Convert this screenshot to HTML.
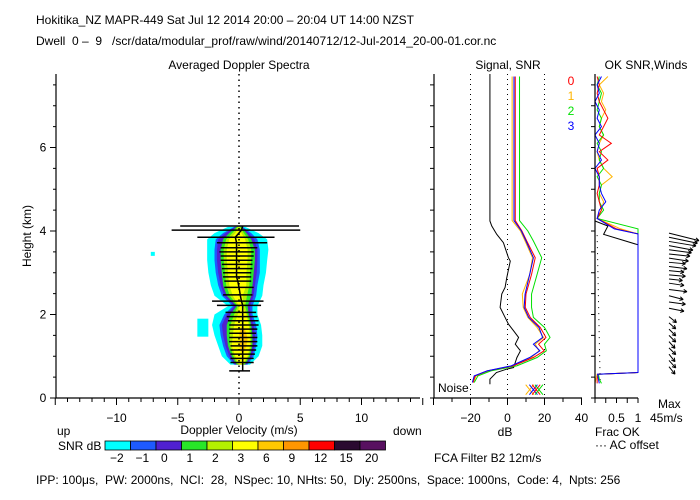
<!DOCTYPE html>
<html><head><meta charset="utf-8"><style>
html,body{margin:0;padding:0;background:#fff;}
svg{display:block;font-family:"Liberation Sans",sans-serif;}
text{font-size:12px;fill:#000;}
</style></head><body>
<svg id="chart" width="700" height="500" viewBox="0 0 700 500" xmlns="http://www.w3.org/2000/svg">
<text x="36" y="24">Hokitika_NZ  MAPR-449  Sat Jul 12 2014 20:00 – 20:04 UT 14:00 NZST</text>
<text x="36" y="45" xml:space="preserve">Dwell  0 –  9   /scr/data/modular_prof/raw/wind/20140712/12-Jul-2014_20-00-01.cor.nc</text>
<text x="239" y="69" text-anchor="middle">Averaged Doppler Spectra</text>
<text x="508" y="69" text-anchor="middle">Signal, SNR</text>
<text x="646" y="69" text-anchor="middle">OK SNR,Winds</text>
<text transform="translate(31,236) rotate(-90)" text-anchor="middle" font-size="11">Height (km)</text>
<g id="spec"></g>
<g id="sig"></g>
<g id="win"></g>
<g id="cbar"></g>
<text x="239" y="434" text-anchor="middle">Doppler Velocity (m/s)</text>
<text x="57" y="435">up</text>
<text x="393" y="435">down</text>
<text x="58" y="450">SNR dB</text>
<text x="505" y="436" text-anchor="middle">dB</text>
<text x="434" y="462">FCA Filter B2 12m/s</text>
<text x="438" y="392">Noise</text>
<text x="595" y="436">Frac OK</text>
<text x="595" y="449">··· AC offset</text>
<text x="658" y="408">Max</text>
<text x="650" y="422">45m/s</text>
<text x="36" y="484" font-size="11.5" xml:space="preserve">IPP: 100μs,  PW: 2000ns,  NCI:  28,  NSpec: 10, NHts: 50,  Dly: 2500ns,  Space: 1000ns,  Code: 4,  Npts: 256</text>
</svg>
<script>
// ---------- data ----------
const specH   = [0.8,1.0,1.25,1.5,1.75,2.0,2.2,2.45,2.7,3.0,3.3,3.55,3.8,3.95,4.1];
const cyanL   = [-0.7,-1.4,-1.7,-2.0,-2.2,-2.0,-0.9,-2.0,-2.3,-2.5,-2.6,-2.6,-2.6,-2.0,-0.9];
const cyanR   = [0.9,1.6,1.9,1.9,1.8,1.5,1.5,1.9,2.0,2.2,2.3,2.4,2.3,1.6,0.5];
const blueL   = [-0.4,-1.0,-1.3,-1.5,-1.6,-1.2,-0.5,-1.4,-1.7,-1.9,-2.0,-2.0,-1.9,-1.3,-0.4];
const blueR   = [0.7,1.2,1.4,1.5,1.4,1.1,1.1,1.4,1.5,1.7,1.7,1.7,1.5,1.0,0.3];
const purpL   = [-0.3,-0.8,-1.1,-1.3,-1.4,-1.0,-0.35,-1.2,-1.5,-1.7,-1.8,-1.8,-1.7,-1.1,-0.3];
const purpR   = [0.6,1.05,1.25,1.3,1.2,0.95,0.9,1.2,1.3,1.45,1.5,1.5,1.25,0.8,0.25];
const greenL  = [-0.2,-0.6,-0.9,-1.0,-1.0,-0.7,-0.2,-1.0,-1.3,-1.4,-1.5,-1.5,-1.3,-0.8,-0.2];
const greenR  = [0.5,0.9,1.1,1.1,1.0,0.8,0.7,1.0,1.1,1.2,1.3,1.3,1.0,0.6,0.2];
const ygL     = [-0.1,-0.45,-0.75,-0.75,-0.7,-0.4,-0.1,-0.75,-1.05,-1.15,-1.25,-1.25,-1.05,-0.55,-0.1];
const ygR     = [0.4,0.8,1.0,1.0,0.9,0.7,0.5,0.65,0.85,0.9,1.0,1.0,0.75,0.4,0.1];
const yelL    = [0,-0.3,-0.6,-0.5,-0.4,-0.1,0,-0.5,-0.8,-0.9,-1.0,-1.0,-0.8,-0.3,0];
const yelR    = [0.3,0.7,0.9,0.9,0.8,0.6,0.3,0.3,0.6,0.6,0.7,0.7,0.5,0.2,0];
const orH     = [1.1,1.25,1.4,1.55,1.7];
const orL     = [0.2,0.0,0.1,0.0,0.2];
const orR     = [0.4,0.6,0.7,0.6,0.4];
const errH = [4.12,4.02,3.85,3.72,3.6,3.5,3.4,3.3,3.2,3.1,3.0,2.9,2.8,2.65,2.47,2.32,2.22,2.05,1.95,1.85,1.75,1.65,1.55,1.45,1.35,1.25,1.15,1.05,0.95,0.85,0.65];
const errL = [-4.8,-5.5,-3.4,-1.8,-1.5,-1.6,-1.5,-1.5,-1.4,-1.4,-1.3,-1.3,-1.2,-1.2,-1.3,-2.2,-1.8,-1.1,-1.0,-0.9,-0.8,-0.8,-0.8,-0.8,-0.8,-0.7,-0.7,-0.7,-0.7,-0.7,-0.8];
const errR = [4.9,5.0,2.9,2.3,1.5,1.2,1.2,1.1,1.1,1.1,1.0,1.0,1.0,1.2,1.1,2.0,1.8,1.4,1.5,1.6,1.6,1.5,1.4,1.5,1.5,1.5,1.4,1.3,1.2,1.2,0.9];
const meanV = [0.3,0.2,-0.3,-0.2,-0.2,-0.2,-0.2,-0.2,-0.2,-0.2,-0.2,-0.2,-0.1,0.0,0.1,0.2,0.3,0.3,0.3,0.3,0.3,0.3,0.3,0.3,0.3,0.3,0.3,0.3,0.3,0.3,0.3];
const xTicks = [-10,-5,0,5,10];
const yTicks = [0,2,4,6];
const dbTicks = [-20,0,20,40];
const cbLabels = ["-2","-1","0","1","2","3","6","9","12","15","20"];
const cbColors = ["#00ffff","#1e5aff","#5020d0","#28e628","#b4f000","#ffff00","#ffc800","#ff9600","#ff0000","#2a0a30","#581060"];
const blackH = [7.76,4.24,4.12,3.92,3.72,3.36,3.28,2.88,2.65,2.49,2.17,1.93,1.77,1.61,1.45,1.29,1.13,0.97,0.73,0.69,0.61,0.45,0.33];
const blackD = [-9.5,-9.5,-8.5,-5.8,-2.2,0.5,1.5,-0.4,-1.3,-3.1,-4,-1.3,0.5,3.3,6,4.2,7,5.1,3.3,-0.5,-6,-9.5,-9.5];
const snrH   = [7.7,4.25,4.0,3.76,3.36,2.96,2.49,2.17,1.93,1.69,1.45,1.29,1.13,0.97,0.77,0.65,0.53,0.37];
const snrRed = [4.2,4.2,7.8,10.4,15,13,10,9.6,12.3,17.7,20.8,16.8,19.8,14,3,-11,-17.5,-18.6];
const snrOrg = [2.5,2.5,7,9.5,13.5,12,8,8.5,11,16,19.5,15,17,13,3,-10,-17,-18.5];
const snrGrn = [6.5,6.5,11,14,18.5,16,13,13,14,20,23,20,21,16,5,-9,-16,-18];
const snrBlu = [3.5,3.5,7.5,10,14,12,9.5,9,11.5,17,19,14,17.5,12,2,-11,-18,-19];
const noiseD = [12,14,15.5,17];
const fracH  = [7.7,7.5,7.3,7.1,6.9,6.7,6.5,6.3,6.1,5.9,5.7,5.5,5.3,5.1,4.9,4.7,4.5,4.3,4.05,3.93,0.61,0.57,0.45,0.35];
const fracRed= [0.05,0.1,0.05,0.1,0.2,0.3,0.2,0.1,0.38,0.1,0.3,0.05,0.1,0.1,0.05,0.1,0.15,0.05,0.5,1,1,0.07,0.05,0.05];
const fracOrg= [0.3,0.1,0.2,0.15,0.25,0.15,0.1,0.2,0.1,0.05,0.1,0.2,0.4,0.15,0.1,0.2,0.15,0.05,0.6,1,1,0.05,0.02,0.0];
const fracGrn= [0.1,0.05,0.15,0.1,0.05,0.15,0.1,0.2,0.05,0.15,0.1,0.2,0.05,0.15,0.1,0.1,0.2,0.05,1,1,1,0.08,0.1,0.15];
const fracBlu= [0.15,0.05,0.1,0.0,0.1,0.05,0.15,0.0,0.1,0.05,0.15,0.0,0.1,0.1,0.15,0.25,0.1,0.05,0.45,1,1,0.06,0.08,0.1];
const fracBlkH = [4.24,4.12,3.92,3.67];
const fracBlk  = [0.0,0.3,0.2,1.0];
const acH = [3.9,0.4];
const acF = [0.05,0.12];
const windH = [3.95,3.85,3.75,3.65,3.55,3.45,3.35,3.25,3.15,3.05,2.95,2.85,2.75,2.6,2.45,2.3,2.15,1.95,1.8,1.65,1.5,1.35,1.2,1.05,0.9,0.75];
const windU = [40,38,36,32,30,28,26,22,24,20,22,18,20,24,19,22,20,10,9,9,9,8,9,8,9,8];
const windV = [-10,-8,-6,-6,-4,-3,-4,-2,-3,-2,-2,-2,-3,-3,-5,-3,-4,-8,-8,-9,-9,-9,-9,-10,-10,-10];

// ---------- helpers ----------
const NS="http://www.w3.org/2000/svg";
const yH = h => 398 - h*41.75;
const xV = v => 239 + v*12.25;
const xD = d => 507.5 + d*1.85;
const xF = f => 595 + f*43;
function mk(parent, tag, attrs){const e=document.createElementNS(NS,tag);for(const k in attrs)e.setAttribute(k,attrs[k]);parent.appendChild(e);return e;}
function txt(parent,x,y,s,anchor){const t=mk(parent,'text',{x:x,y:y,'text-anchor':anchor||'middle'});t.textContent=s;return t;}
const spec=document.getElementById('spec'), sig=document.getElementById('sig'), win=document.getElementById('win'), cb=document.getElementById('cbar');

// ---------- spectra ----------
function band(H,L,R,color,name){
  const pts=[];
  for(let i=0;i<H.length;i++)pts.push(xV(L[i])+','+yH(H[i]));
  for(let i=H.length-1;i>=0;i--)pts.push(xV(R[i])+','+yH(H[i]));
  const p=mk(spec,'polygon',{points:pts.join(' '),fill:color,stroke:'none'});
  
  
}
band(specH,cyanL,cyanR,'#00ffff','snr-contour-cyan');
band(specH,blueL,blueR,'#1e5aff','snr-contour-blue');
band(specH,purpL,purpR,'#5020d0','snr-contour-purple');
band(specH,greenL,greenR,'#28e628','snr-contour-green');
band(specH,ygL,ygR,'#b4f000','snr-contour-yellowgreen');
band(specH,yelL,yelR,'#ffff00','snr-contour-yellow');
band(orH,orL,orR,'#ffc800','snr-contour-orange');
const isl=mk(spec,'rect',{x:xV(-3.4),y:yH(1.9),width:11,height:18,fill:'#00ffff'});


const isl2=mk(spec,'rect',{x:xV(-7.2),y:yH(3.5),width:4,height:4,fill:'#00ffff'});


const zl=mk(spec,'line',{x1:xV(0),y1:74,x2:xV(0),y2:398,stroke:'#000','stroke-width':1.5,'stroke-dasharray':'1.5,4'});


for(let i=0;i<errH.length;i++){
  const l=mk(spec,'line',{x1:xV(errL[i]),y1:yH(errH[i]),x2:xV(errR[i]),y2:yH(errH[i]),stroke:'#000','stroke-width':1.5});
  
  
}
const mp=mk(spec,'polyline',{points:errH.map((h,i)=>xV(meanV[i])+','+yH(h)).join(' '),fill:'none',stroke:'#000','stroke-width':1.5});


const ax=mk(spec,'path',{d:'M56,74 V398 H420',fill:'none',stroke:'#000','stroke-width':1.2});


for(let v=-15;v<=15;v++){
  const major=(v%5===0);
  const t=mk(spec,'line',{x1:xV(v),y1:398,x2:xV(v),y2:major?405:402,stroke:'#000'});
  
  
}
xTicks.forEach(v=>{const t=txt(spec,xV(v),422,v<0?'−'+(-v):String(v));});
for(let h=0;h<=7.5;h+=0.5){
  const t=mk(spec,'line',{x1:h%2===0?50:53,y1:yH(h),x2:56,y2:yH(h),stroke:'#000'});
  
  
}
yTicks.forEach(h=>{const t=txt(spec,43,yH(h)+4,String(h));});

// ---------- colorbar ----------
cbColors.forEach((c,i)=>{
  const r=mk(cb,'rect',{x:105+i*25.5,y:441,width:25.5,height:9,fill:c,stroke:'#000','stroke-width':0.8});
  
  
  const t=txt(cb,110+i*25.5,462,cbLabels[i].replace('-','−'),'start');
  
  
});

// ---------- signal panel ----------
[-20,0,20].forEach(d=>{
  const l=mk(sig,'line',{x1:xD(d),y1:74,x2:xD(d),y2:398,stroke:'#000','stroke-dasharray':'1,4'});
  
  
});
function lineD(H,D,color,name){
  const p=mk(sig,'polyline',{points:H.map((h,i)=>xD(D[i])+','+yH(h)).join(' '),fill:'none',stroke:color,'stroke-width':1});
  
  
}
lineD(blackH,blackD,'#000','signal-line');
lineD(snrH,snrOrg,'#ffb400','snr-beam-1');
lineD(snrH,snrGrn,'#00e000','snr-beam-2');
lineD(snrH,snrRed,'#ff0000','snr-beam-0');
lineD(snrH,snrBlu,'#0000ff','snr-beam-3');
const ncol=['#ffb400','#0000ff','#ff0000','#00e000'];
noiseD.forEach((d,i)=>{
  const x=xD(d),y=yH(0.2);
  const g=mk(sig,'path',{d:`M${x-4},${y-5} L${x+4},${y+5} M${x+4},${y-5} L${x-4},${y+5}`,stroke:ncol[i],'stroke-width':1});
  
  
});
const sax=mk(sig,'path',{d:'M434,74 V398 H582',fill:'none',stroke:'#000','stroke-width':1.2});


for(let h=0;h<=7.5;h+=0.5){
  const t=mk(sig,'line',{x1:430,y1:yH(h),x2:434,y2:yH(h),stroke:'#000'});
  
  
}
for(let d=-40;d<=40;d+=10){
  const t=mk(sig,'line',{x1:xD(d),y1:398,x2:xD(d),y2:d%20===0?405:402,stroke:'#000'});
  
  
}
dbTicks.forEach(d=>{const t=txt(sig,xD(d),422,d<0?'−'+(-d):String(d));});

// ---------- winds panel ----------
const bl=[['0','#ff0000'],['1','#ffb400'],['2','#00e000'],['3','#0000ff']];
bl.forEach((b,i)=>{const t=txt(win,571,85+i*15,b[0]);t.setAttribute('fill',b[1]);t.style.fill=b[1];});
function lineF(H,F,color,name,dash){
  const p=mk(win,'polyline',{points:H.map((h,i)=>xF(F[i])+','+yH(h)).join(' '),fill:'none',stroke:color,'stroke-width':1});
  if(dash)p.setAttribute('stroke-dasharray',dash);
  
  
}
lineF(acH,acF,'#000','ac-offset-line','1,5');
lineF(fracBlkH,fracBlk,'#000','frac-ok-total');
lineF(fracH,fracOrg,'#ffb400','frac-ok-beam-1');
lineF(fracH,fracGrn,'#00e000','frac-ok-beam-2');
lineF(fracH,fracRed,'#ff0000','frac-ok-beam-0');
lineF(fracH,fracBlu,'#0000ff','frac-ok-beam-3');
const wax=mk(win,'path',{d:'M595,74 V398 H638',fill:'none',stroke:'#000','stroke-width':1.2});


for(let h=0;h<=7.5;h+=0.5){
  const t=mk(win,'line',{x1:591,y1:yH(h),x2:595,y2:yH(h),stroke:'#000'});
  
  
}
for(let f=0;f<=1.001;f+=0.25){
  const t=mk(win,'line',{x1:xF(f),y1:398,x2:xF(f),y2:403,stroke:'#000'});
  
  
}
[['0.5',0.5],['1',1]].forEach(a=>{const t=txt(win,xF(a[1]),422,a[0]);});
const WS=0.75;
for(let i=0;i<windH.length;i++){
  const x0=669,y0=yH(windH[i]);
  const x1=x0+windU[i]*WS, y1=y0-windV[i]*WS;
  const ang=Math.atan2(y1-y0,x1-x0), a=4;
  const d=`M${x0},${y0} L${x1},${y1} M${x1},${y1} L${x1-a*Math.cos(ang-0.5)},${y1-a*Math.sin(ang-0.5)} M${x1},${y1} L${x1-a*Math.cos(ang+0.5)},${y1-a*Math.sin(ang+0.5)}`;
  const p=mk(win,'path',{d:d,stroke:'#000','stroke-width':1,fill:'none'});
  
  
}
</script>
</body></html>
